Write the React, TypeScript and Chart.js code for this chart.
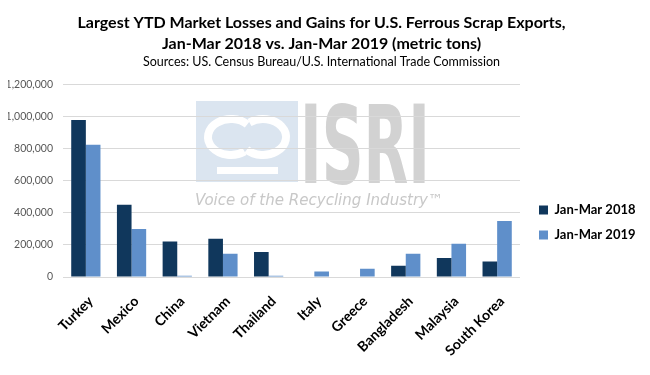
import React, { useEffect, useRef } from 'react';
import { Chart, registerables } from 'chart.js';

Chart.register(...registerables);

const categories = ['Turkey', 'Mexico', 'China', 'Vietnam', 'Thailand', 'Italy', 'Greece', 'Bangladesh', 'Malaysia', 'South Korea'];
const seriesNames = ['Jan-Mar 2018', 'Jan-Mar 2019'];
const values2018 = [980000, 450000, 222000, 238000, 156000, 0, 0, 70000, 118000, 97000];
const values2019 = [825000, 300000, 8000, 145000, 8000, 35000, 52000, 145000, 207000, 350000];
const titleLines = [
  'Largest YTD Market Losses and Gains for U.S. Ferrous Scrap Exports,',
  'Jan-Mar 2018 vs. Jan-Mar 2019 (metric tons)',
];
const subtitleText = 'Sources: US. Census Bureau/U.S. International Trade Commission';
const yMin = 0;
const yMax = 1200000;
const yStep = 200000;
const watermarkName = 'ISRI';
const watermarkSlogan = 'Voice of the Recycling Industry\u2122';

const FONT = 'Lato, "Open Sans", sans-serif';

const watermarkPlugin = {
  id: 'watermark',
  beforeDraw(chart: any) {
    const { ctx, chartArea: a } = chart;
    if (!a) return;
    ctx.save();
    // light blue square
    const sqX = a.left + 133;
    const sqY = a.top + 16.4;
    const sqW = 102;
    const sqH = 81;
    ctx.fillStyle = '#dbe5f0';
    ctx.fillRect(sqX, sqY, sqW, sqH);
    // white swirl logo
    ctx.strokeStyle = '#ffffff';
    ctx.lineWidth = 8;
    ctx.lineCap = 'butt';
    ctx.beginPath();
    ctx.ellipse(sqX + 35, sqY + 36, 23, 18, 0, 0.3 * Math.PI, 1.75 * Math.PI);
    ctx.stroke();
    ctx.beginPath();
    ctx.ellipse(sqX + 67, sqY + 36, 23, 18, 0, -0.7 * Math.PI, 0.75 * Math.PI);
    ctx.stroke();
    ctx.fillStyle = '#ffffff';
    ctx.fillRect(sqX + 21, sqY + 66, 61, 7);

    // ISRI letters
    ctx.fillStyle = '#d2d2d2';
    ctx.font = 'bold 100px "Liberation Sans Narrow", "DejaVu Sans Condensed", sans-serif';
    ctx.textBaseline = 'alphabetic';
    ctx.textAlign = 'left';
    const m = ctx.measureText(watermarkName);
    const asc = m.actualBoundingBoxAscent || 72;
    ctx.save();
    ctx.translate(a.left + 237, a.top + 98.4);
    ctx.scale(130 / m.width, 82 / asc);
    ctx.fillText(watermarkName, 0, 0);
    ctx.restore();

    // slogan
    ctx.fillStyle = '#c8c8c8';
    ctx.font = 'oblique 15px "DejaVu Sans", sans-serif';
    const m2 = ctx.measureText(watermarkSlogan);
    ctx.save();
    ctx.translate(a.left + 132, a.top + 120.4);
    ctx.scale(248 / m2.width, 1);
    ctx.fillText(watermarkSlogan, 0, 0);
    ctx.restore();

    ctx.restore();
  },
};

export default function App() {
  const ref = useRef<HTMLCanvasElement>(null);

  useEffect(() => {
    if (!ref.current) return;
    const chart = new Chart(ref.current, {
      type: 'bar',
      data: {
        labels: categories,
        datasets: [
          {
            label: seriesNames[0],
            data: values2018,
            backgroundColor: '#10375c',
            borderWidth: 0,
            categoryPercentage: 0.64,
            barPercentage: 1.0,
          },
          {
            label: seriesNames[1],
            data: values2019,
            backgroundColor: '#5f8fca',
            borderWidth: 0,
            categoryPercentage: 0.64,
            barPercentage: 1.0,
          },
        ],
      },
      options: {
        responsive: false,
        animation: false,
        devicePixelRatio: 1,
        layout: { padding: { left: 0, right: 7, top: 0, bottom: 0 } },
        scales: {
          x: {
            grid: { display: false, drawTicks: false },
            border: { display: false },
            ticks: {
              autoSkip: false,
              minRotation: 45,
              maxRotation: 45,
              padding: 16,
              labelOffset: 5,
              color: '#000000',
              font: { family: FONT, size: 14, weight: 'bold' },
            },
            afterFit: (s: any) => {
              s.height = 90;
            },
          },
          y: {
            min: yMin,
            max: yMax,
            grid: { color: '#d9d9d9', drawTicks: false, lineWidth: 1 },
            border: { display: false },
            ticks: {
              stepSize: yStep,
              padding: 10,
              color: '#595959',
              font: { family: FONT, size: 10.5 },
              callback: (v: any) => Number(v).toLocaleString('en-US'),
            },
            afterFit: (s: any) => {
              s.width = 55;
            },
          },
          yGap: {
            position: 'right',
            display: true,
            grid: { display: false, drawTicks: false },
            border: { display: false },
            ticks: { display: false },
            afterFit: (s: any) => {
              s.width = 7;
            },
          },
        },
        plugins: {
          title: {
            display: true,
            text: titleLines,
            color: '#000000',
            font: { family: FONT, size: 16, weight: 'bold', lineHeight: 1.3125 },
            padding: { top: 4, bottom: 0 },
          },
          subtitle: {
            display: true,
            text: subtitleText,
            color: '#000000',
            font: { family: FONT, size: 12.5, lineHeight: 1.25 },
            padding: { top: 0, bottom: 15 },
          },
          legend: {
            position: 'right',
            align: 'center',
            fullSize: true,
            maxWidth: 108,
            title: {
              display: true,
              text: '',
              font: { size: 12, lineHeight: 1.2 },
              padding: { top: 0, bottom: 55.6 },
            },
            labels: {
              boxWidth: 9,
              boxHeight: 9,
              padding: 12,
              color: '#000000',
              font: { family: FONT, size: 13, weight: 'bold' },
            },
          },
          tooltip: { enabled: false },
        },
      },
      plugins: [watermarkPlugin],
    } as any);
    return () => chart.destroy();
  }, []);

  return (
    <canvas
      ref={ref}
      width={634}
      height={359}
      style={{ display: 'block', width: 634, height: 359 }}
    />
  );
}
